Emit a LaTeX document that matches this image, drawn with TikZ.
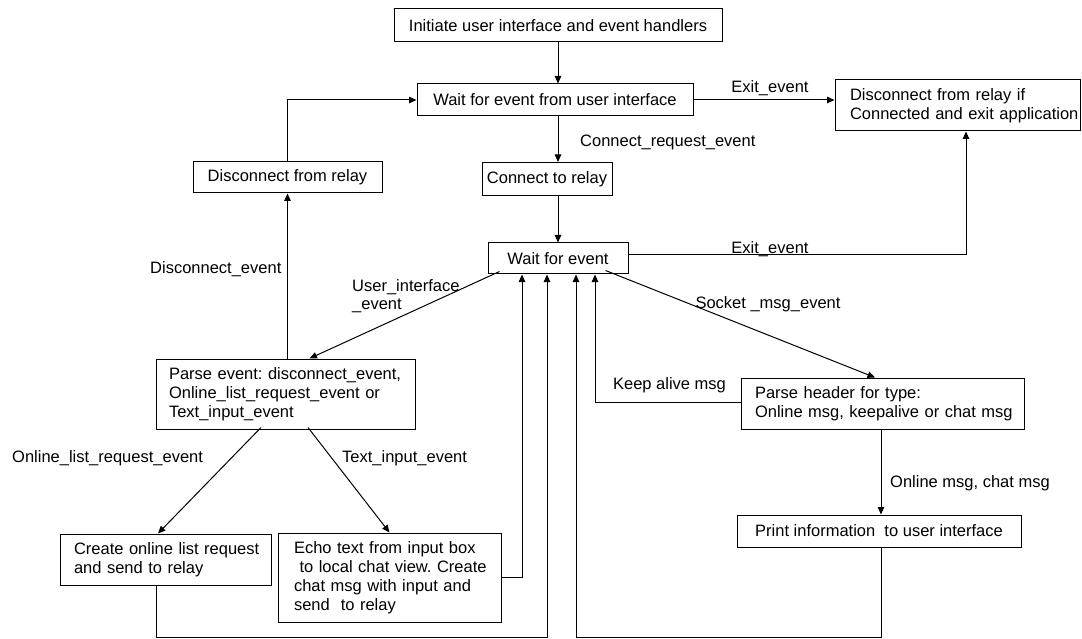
\documentclass[tikz,border=0pt]{standalone}
\usepackage{fontspec}
\setmainfont{Liberation Sans}
\usetikzlibrary{arrows.meta}
\frenchspacing
\begin{document}
\begin{tikzpicture}[x=1pt,y=-1pt,
  every node/.style={font=\fontsize{16.5}{19}\selectfont, inner sep=0pt},
  box/.style={draw, line width=1pt, rectangle},
  flow/.style={line width=1pt, -{Triangle[length=7.5pt,width=6.5pt]}},
  wire/.style={line width=1pt}]
\useasboundingbox (0,0) rectangle (1082,639);

% process boxes
\node[box, minimum width=328, minimum height=33] (init) at (558,25.5) {Initiate user interface and event handlers};
\node[box, minimum width=276, minimum height=32] (waitui) at (555,100) {Wait for event from user interface};
\node[box, minimum width=245, minimum height=51, text width=215, align=left] (exitapp) at (957.5,105.5)
  {\mbox{Disconnect from relay if}\\\mbox{Connected and exit application}};
\node[box, minimum width=189, minimum height=31] (discon) at (287.5,177.5) {Disconnect from relay};
\node[box, minimum width=130, minimum height=33] (connect) at (547,179) {Connect to relay};
\node[box, minimum width=140, minimum height=31] (wait) at (558,258.5) {Wait for event};
\node[box, minimum width=259, minimum height=70, text width=233, align=left] (parseev) at (285.5,394)
  {\mbox{Parse event: disconnect\_event,}\\\mbox{Online\_list\_request\_event or}\\\mbox{Text\_input\_event}};
\node[box, minimum width=283, minimum height=51, text width=255, align=left] (parsehdr) at (882.5,403.5)
  {\mbox{Parse header for type:}\\\mbox{Online msg, keepalive or chat msg}};
\node[box, minimum width=211, minimum height=51, text width=183, align=left] (online) at (165.5,559.5)
  {\mbox{Create online list request}\\\mbox{and send to relay}};
\node[box, minimum width=223, minimum height=89, text width=191, align=left] (echo) at (389.5,577.5)
  {\mbox{Echo text from input box}\\\mbox{\ to local chat view. Create}\\\mbox{chat msg with input and}\\\mbox{send \ to relay}};
\node[box, minimum width=284, minimum height=32] (print) at (879,531) {Print information \ to user interface};

% connectors
\draw[flow] (init.south) -- (init.south |- waitui.north);
\draw[flow] (waitui.south -| init.south) -- (connect.north -| init.south);
\draw[flow] (connect.south -| wait.north) -- (wait.north);
\draw[flow] (waitui.east) -- (waitui.east -| exitapp.west);
\draw[flow] ([yshift=3.5]wait.east) -| ([xshift=8.5]exitapp.south);
\draw[flow] (parseev.north -| discon.south) -- (discon.south);
\draw[flow] (discon.north) |- (waitui.west);
\draw[flow] ([xshift=12,yshift=3]wait.south west) -- ([xshift=24]parseev.north);
\draw[flow] ([xshift=-23,yshift=4]wait.south east) -- ([xshift=-7.5]parsehdr.north);
\draw[flow] ([xshift=-24.5,yshift=2]parseev.south) -- ([xshift=-7.5]online.north);
\draw[flow] ([xshift=22.5,yshift=2]parseev.south) -- (echo.north);
\draw[flow] (echo.east) -| ([xshift=-36]wait.south);
\draw[flow] ([xshift=-9.5]online.south) -- ++(0,52) -| ([xshift=-11]wait.south);
\draw[flow] ([xshift=2]print.south) -- ++(0,90) -| ([xshift=18]wait.south);
\draw[flow] ([yshift=1.5]parsehdr.west) -| ([xshift=37]wait.south);
\draw[flow] ([xshift=-1.5]parsehdr.south) -- ([xshift=-1.5]parsehdr.south |- print.north);

% connector labels
\node[anchor=west] (lconn) at (580,142) {Connect\_request\_event};
\node (lexit1) at (770,88) {Exit\_event};
\node (lexit2) at (770,249) {Exit\_event};
\node[anchor=west] (ldisc) at (150,269) {Disconnect\_event};
\node[anchor=west, align=left, font=\fontsize{16.5}{18}\selectfont] (lui) at (352,296) {User\_interface\\\_event};
\node (lsock) at (768,304) {Socket \_msg\_event};
\node (lkeep) at (669.5,385) {Keep alive msg};
\node[anchor=west] (lonmsg) at (890,483) {Online msg, chat msg};
\node[anchor=west] (lolr) at (12,458) {Online\_list\_request\_event};
\node[anchor=west] (ltext) at (342,458) {Text\_input\_event};
\end{tikzpicture}
\end{document}
